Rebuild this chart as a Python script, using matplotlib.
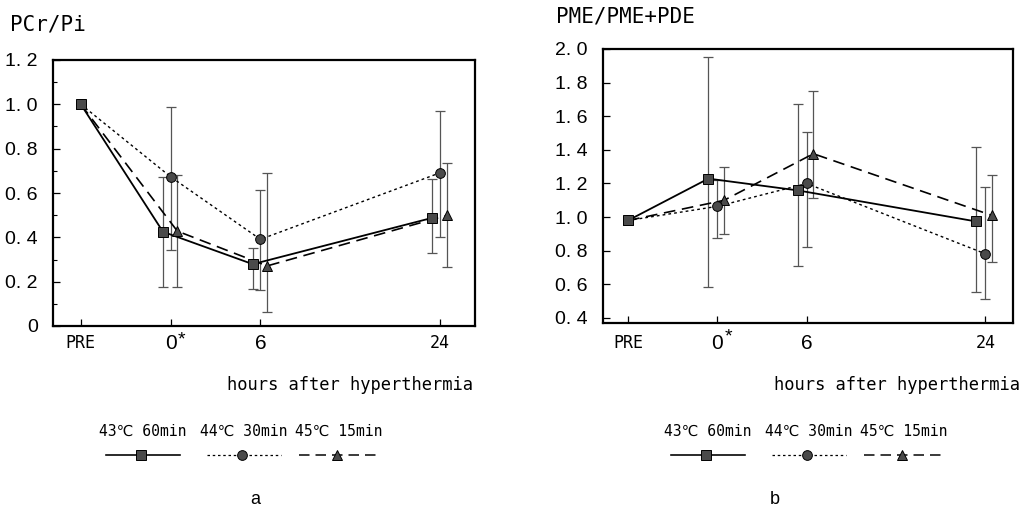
import numpy as np
import matplotlib
matplotlib.use("Agg")
import matplotlib.pyplot as plt
from matplotlib.lines import Line2D

# data
x_labels = ["PRE", "0", "6", "24"]
x_pos = np.array([0, 1, 2, 4])
series_names = ["43\u2103 60min", "44\u2103 30min", "45\u2103 15min"]

# a: PCr/Pi
pcr_mean = {
    "sq": [1.0, 0.425, 0.279, 0.488],
    "ci": [1.0, 0.673, 0.391, 0.691],
    "tr": [1.0, 0.428, 0.271, 0.499],
}
pcr_low = {
    "sq": [1.0, 0.174, 0.169, 0.328],
    "ci": [1.0, 0.343, 0.162, 0.403],
    "tr": [1.0, 0.174, 0.064, 0.264],
}
pcr_high = {
    "sq": [1.0, 0.673, 0.354, 0.661],
    "ci": [1.0, 0.990, 0.613, 0.971],
    "tr": [1.0, 0.679, 0.688, 0.736],
}

# b: PME/PME+PDE
pme_mean = {
    "sq": [0.98, 1.229, 1.159, 0.974],
    "ci": [0.98, 1.064, 1.200, 0.782],
    "tr": [0.98, 1.100, 1.377, 1.010],
}
pme_low = {
    "sq": [0.98, 0.583, 0.712, 0.554],
    "ci": [0.98, 0.875, 0.821, 0.510],
    "tr": [0.98, 0.900, 1.113, 0.736],
}
pme_high = {
    "sq": [0.98, 1.952, 1.671, 1.417],
    "ci": [0.98, 1.220, 1.506, 1.179],
    "tr": [0.98, 1.300, 1.748, 1.252],
}

styles = {
    "sq": dict(marker="s", ls="-", lw=1.3, ms=6.5, dashes=None),
    "ci": dict(marker="o", ls="--", lw=1.0, ms=7, dashes=(2, 2.2)),
    "tr": dict(marker="^", ls="--", lw=1.2, ms=7.5, dashes=(7, 4)),
}
order = ["tr", "ci", "sq"]

MONO = ["DejaVu Sans Mono", "DejaVu Sans"]
SANS = ["Liberation Sans", "DejaVu Sans"]


def draw_panel(ax, mean, low, high, offsets, ylim, yticks, ylabels, xlim):
    for key in order:
        st = styles[key]
        xs = x_pos + offsets[key] * (x_pos > 0)
        m = np.array(mean[key])
        lo = m - np.array(low[key])
        hi = np.array(high[key]) - m
        ax.errorbar(xs[1:], m[1:], yerr=[lo[1:], hi[1:]], fmt="none",
                    ecolor="#555555", elinewidth=0.9, capsize=3.5, capthick=0.9, zorder=2)
        line, = ax.plot(xs, m, color="black", lw=st["lw"], ls=st["ls"], zorder=3)
        if st["dashes"] is not None:
            line.set_dashes(st["dashes"])
        ax.plot(xs, m, ls="none", marker=st["marker"], ms=st["ms"],
                mfc="#4a4a4a", mec="black", mew=0.7, zorder=4)
    ax.set_xlim(*xlim)
    ax.set_ylim(*ylim)
    ax.set_yticks(yticks)
    ax.set_yticklabels(ylabels, family=SANS, fontsize=14)
    ax.set_xticks(x_pos)
    ax.set_xticklabels(x_labels)
    for lab, size, fam in zip(ax.get_xticklabels(), [12, 15, 15, 12], [MONO, SANS, SANS, MONO]):
        lab.set_fontsize(size)
        lab.set_family(fam)
    ax.tick_params(axis="both", direction="in", length=5, width=0.9)
    ax.tick_params(axis="y", pad=11)
    for sp in ax.spines.values():
        sp.set_linewidth(1.6)
    # asterisk on the 0 label
    ax.annotate("*", xy=(1, 0), xycoords=("data", "axes fraction"),
                xytext=(8, -4), textcoords="offset points", ha="center", va="top",
                fontsize=14, family=SANS)


fig = plt.figure(figsize=(10.27, 5.08), dpi=100)
W, H = 1027.0, 508.0

ax1 = fig.add_axes([53 / W, 1 - 326 / H, 422 / W, 266 / H])
draw_panel(ax1, pcr_mean, pcr_low, pcr_high,
           {"sq": -0.085, "ci": 0.0, "tr": 0.075},
           (0, 1.2), [0, 0.2, 0.4, 0.6, 0.8, 1.0, 1.2],
           ["0", "0. 2", "0. 4", "0. 6", "0. 8", "1. 0", "1. 2"], (-0.31, 4.39))
ax1.set_yticks(np.arange(0.1, 1.2, 0.2), minor=True)
ax1.tick_params(axis="y", which="minor", direction="in", length=3, width=0.8)
ax1.tick_params(axis="x", pad=6)

ax2 = fig.add_axes([603 / W, 1 - 322.7 / H, 410 / W, 273.7 / H])
draw_panel(ax2, pme_mean, pme_low, pme_high,
           {"sq": -0.1, "ci": 0.0, "tr": 0.075},
           (0.372, 2.0), [0.4, 0.6, 0.8, 1.0, 1.2, 1.4, 1.6, 1.8, 2.0],
           ["0. 4", "0. 6", "0. 8", "1. 0", "1. 2", "1. 4", "1. 6", "1. 8", "2. 0"], (-0.28, 4.31))
ax2.tick_params(axis="x", pad=8)

# axis titles
fig.text(10 / W, 1 - 24 / H, "PCr/Pi", family=MONO, fontsize=15, va="center", ha="left")
fig.text(556 / W, 1 - 17 / H, "PME/PME+PDE", family=MONO, fontsize=15, va="center", ha="left")
fig.text(473 / W, 1 - 385 / H, "hours after hyperthermia", family=MONO, fontsize=12.3,
         va="center", ha="right")
fig.text(1020 / W, 1 - 385 / H, "hours after hyperthermia", family=MONO, fontsize=12.3,
         va="center", ha="right")

# hand-made legends under each panel
centers = [143, 244, 339]
half = [37, 37, 40]
for shift in [0, 565]:
    for key, name, cx, hw in zip(["sq", "ci", "tr"], series_names, centers, half):
        st = styles[key]
        x0 = (cx + shift - hw) / W
        x1 = (cx + shift + hw) / W
        yl = 1 - 455 / H
        fig.text((cx + shift) / W, 1 - 431 / H, name, family=MONO + ["Noto Sans CJK JP"],
                 fontsize=10.6, ha="center", va="center")
        ln = Line2D([x0, x1], [yl, yl], transform=fig.transFigure, color="black",
                    lw=st["lw"] * 0.9, ls=st["ls"])
        if st["dashes"] is not None:
            ln.set_dashes(st["dashes"])
        fig.add_artist(ln)
        mk = Line2D([(cx + shift - 2) / W], [yl], transform=fig.transFigure, ls="none",
                    marker=st["marker"], ms=st["ms"], mfc="#4a4a4a", mec="black", mew=0.7)
        fig.add_artist(mk)

fig.text(255 / W, 1 - 499 / H, "a", family=SANS, fontsize=13, ha="center", va="center")
fig.text(775 / W, 1 - 499 / H, "b", family=SANS, fontsize=13, ha="center", va="center")

fig.savefig("out.png", dpi=100)
